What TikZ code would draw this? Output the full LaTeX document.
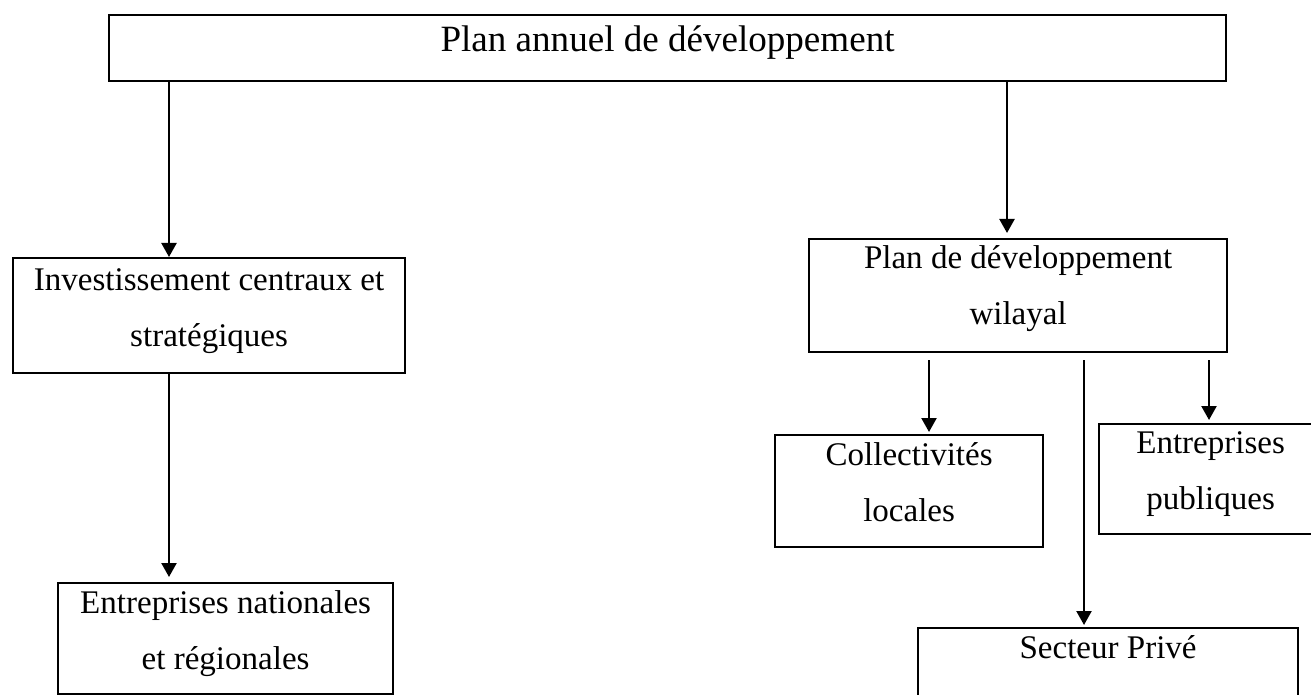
\documentclass[tikz,border=0pt]{standalone}
\usepackage{fontspec}
\setmainfont{Liberation Serif}
\usetikzlibrary{arrows.meta}
\tikzset{
  box/.style={draw, line width=1.3pt, inner sep=0pt, align=center, anchor=north west,
    font=\fontsize{18.8}{31.9}\selectfont},
  arr/.style={line width=1.3pt, -{Triangle[width=0.3cm,length=0.28cm]}},
}

\begin{document}
\begin{tikzpicture}[x=0.02cm,y=-0.02cm]
\useasboundingbox (0,0) rectangle (1311,695);
% boites
\node[box, minimum width=22.34cm, text height=0.72cm, text depth=0.60cm,
  font=\fontsize{21.1}{25}\selectfont] (plan) at (108,14) {Plan annuel de développement};
\node[box, minimum width=7.84cm, text height=1.76cm, text depth=0.54cm] (invest) at (12,257)
  {Investissement centraux et\\stratégiques};
\node[box, minimum width=6.70cm, text height=1.72cm, text depth=0.50cm] (entnat) at (57,582)
  {Entreprises nationales\\et régionales};
\node[box, minimum width=8.36cm, text height=1.70cm, text depth=0.56cm] (wilaya) at (808,238)
  {Plan de développement\\wilayal};
\node[box, minimum width=5.36cm, text height=1.72cm, text depth=0.52cm] (collect) at (774,434)
  {Collectivités\\locales};
\node[box, minimum width=4.46cm, text height=1.70cm, text depth=0.50cm] (entpub) at (1098,423)
  {Entreprises\\publiques};
\node[box, minimum width=7.60cm, text height=0.60cm, text depth=1.66cm] (prive) at (917,627)
  {Secteur Privé};
% fleches
\coordinate (xl) at (169,0);
\coordinate (xr) at (1007,0);
\coordinate (xc) at (929,0);
\coordinate (xm) at (1084,0);
\coordinate (xp) at (1209,0);
\draw[arr] (plan.south -| xl) -- (invest.north -| xl);
\draw[arr, shorten >=0.1cm] (plan.south -| xr) -- (wilaya.north -| xr);
\draw[arr, shorten >=0.1cm] (invest.south -| xl) -- (entnat.north -| xl);
\draw[arr, shorten <=0.14cm, shorten >=0.04cm] (wilaya.south -| xc) -- (collect.north -| xc);
\draw[arr, shorten <=0.14cm, shorten >=0.04cm] (wilaya.south -| xm) -- (prive.north -| xm);
\draw[arr, shorten <=0.14cm, shorten >=0.06cm] (wilaya.south -| xp) -- (entpub.north -| xp);
\end{tikzpicture}
\end{document}
